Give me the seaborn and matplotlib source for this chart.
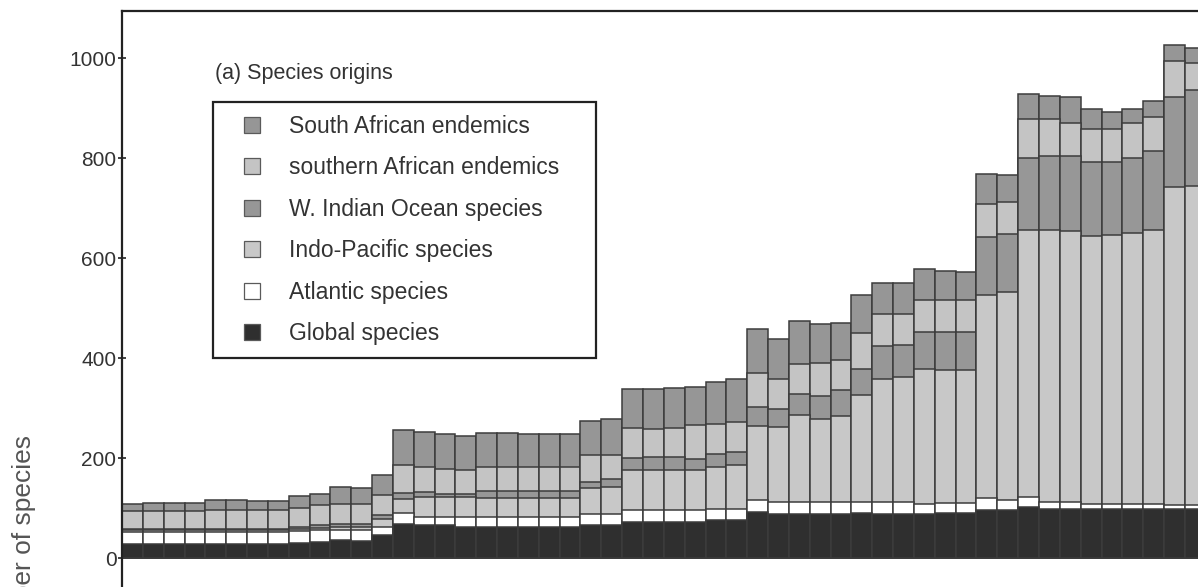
import matplotlib
matplotlib.use("Agg")
import matplotlib.pyplot as plt
from matplotlib.lines import Line2D
import numpy as np
import pandas as pd
import seaborn as sns

# Species counts per sampled assemblage (west to east), one list per origin
global_species = [29, 29, 29, 29, 29, 29, 29, 29, 31, 33, 36, 34, 46, 69, 66, 66, 63, 63,
                  63, 63, 63, 63, 66, 66, 73, 73, 73, 73, 76, 76, 93, 89, 89, 89, 89, 91,
                  89, 89, 89, 91, 91, 97, 97, 103, 99, 99, 99, 99, 99, 99, 99, 99]
atlantic_species = [24, 24, 24, 24, 24, 24, 24, 24, 24, 23, 21, 23, 17, 22, 17, 17, 20, 20,
                    20, 20, 20, 20, 23, 23, 23, 23, 23, 23, 23, 23, 23, 24, 24, 24, 24, 22,
                    24, 24, 20, 20, 20, 24, 19, 20, 14, 14, 9, 9, 9, 9, 7, 7]
indo_pacific_species = [3, 3, 3, 3, 3, 3, 3, 3, 3, 4, 5, 5, 16, 28, 40, 40, 40, 38,
                        38, 38, 38, 38, 52, 54, 80, 80, 80, 80, 84, 87, 149, 150, 173, 166, 172, 213,
                        246, 249, 269, 265, 265, 405, 417, 533, 543, 542, 537, 538, 543, 548, 636, 639]
w_indian_ocean_species = [3, 3, 3, 3, 3, 3, 3, 3, 5, 6, 6, 6, 7, 12, 10, 6, 6, 14,
                          14, 14, 14, 14, 12, 16, 25, 27, 27, 23, 26, 27, 38, 36, 43, 45, 51, 53,
                          65, 65, 75, 76, 76, 117, 115, 145, 149, 150, 148, 147, 150, 159, 181, 191]
southern_african_endemics = [36, 36, 36, 36, 37, 37, 37, 37, 38, 40, 40, 40, 40, 55, 50, 50, 47, 48,
                             48, 48, 48, 48, 53, 47, 60, 56, 58, 67, 60, 60, 68, 60, 60, 66, 60, 71,
                             64, 61, 63, 65, 65, 66, 65, 78, 74, 65, 66, 66, 69, 67, 72, 54]
south_african_endemics = [13, 16, 16, 15, 20, 20, 19, 19, 23, 23, 35, 33, 40, 70, 70, 70, 69, 68,
                          68, 66, 66, 66, 69, 72, 77, 80, 79, 76, 84, 85, 87, 80, 86, 79, 74, 76,
                          63, 63, 63, 57, 56, 60, 54, 50, 45, 53, 39, 33, 29, 33, 31, 30]

layer_names = ["Global species", "Atlantic species", "Indo-Pacific species",
               "W. Indian Ocean species", "southern African endemics", "South African endemics"]
layer_colors = ["#2f2f2f", "#ffffff", "#c8c8c8", "#979797", "#c4c4c4", "#969696"]
ytick_values = [0, 200, 400, 600, 800, 1000]

layers = [global_species, atlantic_species, indo_pacific_species,
          w_indian_ocean_species, southern_african_endemics, south_african_endemics]

df = pd.DataFrame({name: vals for name, vals in zip(layer_names, layers)})
df["site"] = np.arange(len(df))
cumulative = df[layer_names].cumsum(axis=1)
cumulative["site"] = df["site"]

sns.set_style("white")
plt.rcParams["font.family"] = ["Liberation Sans", "DejaVu Sans"]

W, H = 1198, 587
fig = plt.figure(figsize=(W / 100, H / 100), dpi=100)
ax = fig.add_axes([122 / W, 0, (W - 122) / W, (H - 11) / H])

edge = "#3c3c3c"
# stacked bars: draw running totals from the top layer down
for name, color in reversed(list(zip(layer_names, layer_colors))):
    sns.barplot(data=cumulative, x="site", y=name, color=color, saturation=1,
                width=1.0, edgecolor=edge, linewidth=1.1, errorbar=None, ax=ax)

ax.set_xlim(-0.5, 51.13)
ax.set_ylim(-58, 1094)
ax.set_xlabel("")
ax.set_ylabel("")
ax.set_xticks([])
ax.set_yticks(ytick_values)
ax.set_yticklabels([str(v) for v in ytick_values])
ax.tick_params(axis="y", direction="inout", length=6, width=1.2, color="#222",
               labelsize=15, labelcolor="#333", pad=1, left=True)

for side in ["right", "bottom"]:
    ax.spines[side].set_visible(False)
for side in ["left", "top"]:
    ax.spines[side].set_visible(True)
    ax.spines[side].set_color("#222")
    ax.spines[side].set_linewidth(1.6)

ax.text(93 / 1076, (H - 73) / (H - 11), "(a) Species origins", transform=ax.transAxes,
        ha="left", va="center", fontsize=15.5, color="#333")

handles = [Line2D([0], [0], marker="s", linestyle="none", markersize=12,
                  markerfacecolor=c, markeredgecolor="#5a5a5a", markeredgewidth=0.9)
           for c in layer_colors]
leg = ax.legend(handles[::-1], layer_names[::-1], loc="upper left",
                bbox_to_anchor=(91 / 1076, (H - 102) / (H - 11) - 0.455, 383 / 1076, 0.455),
                mode="expand", fontsize=16.5, frameon=True, fancybox=False, framealpha=1,
                edgecolor="#222", borderpad=0.55, handlelength=2.34, handletextpad=0.42,
                labelspacing=0.81, borderaxespad=0)
leg.get_frame().set_linewidth(1.6)
for t in leg.get_texts():
    t.set_color("#333")

fig.text(24 / W, (H - 545) / H, "Number of species", rotation=90, ha="center",
         va="center", fontsize=19, color="#555")

fig.savefig("out.png", dpi=100)
